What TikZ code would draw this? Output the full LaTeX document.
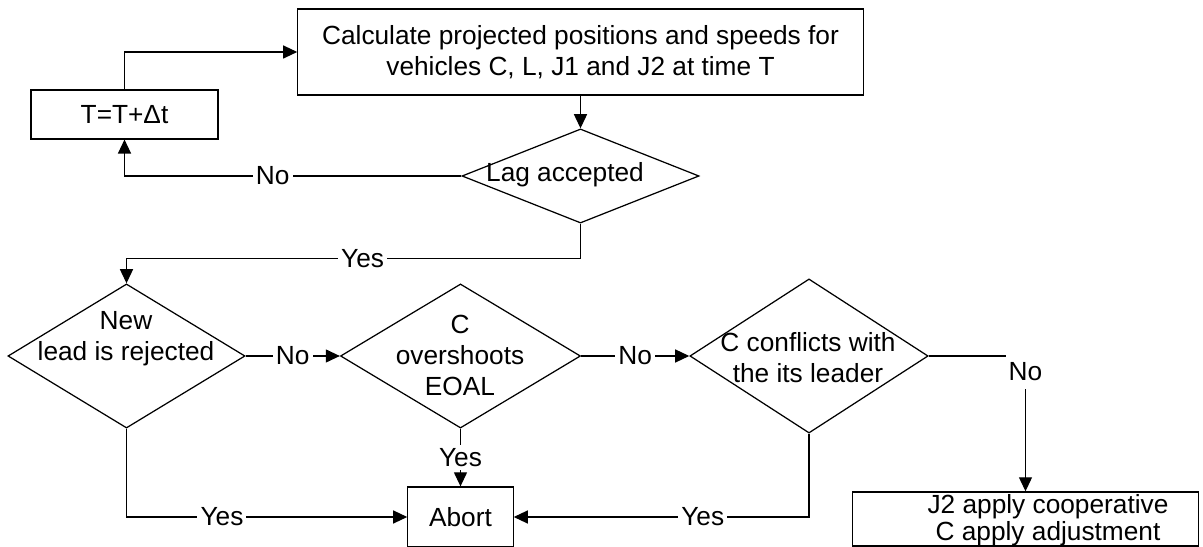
\documentclass[tikz,border=0pt]{standalone}
\usepackage{fontspec}
\setmainfont{Liberation Sans}
\usetikzlibrary{arrows.meta,shapes.geometric}

\begin{document}
\begin{tikzpicture}[
  x=0.017cm,y=-0.017cm,
  font=\fontsize{12.7}{15}\selectfont,
  box/.style={draw,line width=.6pt,inner sep=0pt,align=center},
  dec/.style={diamond,draw,line width=.6pt,inner sep=0pt},
  txt/.style={align=center,inner sep=0pt},
  flow/.style={line width=.6pt,-{Triangle[length=6.8pt,width=6.3pt]}},
  lbl/.style={fill=white,inner sep=1.5pt}
]
\useasboundingbox (0,0) rectangle (1203,547);
\node[box,minimum width=9.61cm,minimum height=1.46cm] (calc) at (580.5,52)
  {Calculate projected positions and speeds for\\vehicles C, L, J1 and J2 at time T};
\node[box,minimum width=3.18cm,minimum height=.83cm] (tbox) at (124.5,114.5) {T=T+Δt};
\node[dec,minimum width=4.03cm,minimum height=1.6cm] (lag) at (580.5,176) {};
\node[txt] (lagtxt) at (565,175) {Lag accepted};
\node[dec,minimum width=4.03cm,minimum height=2.45cm] (lead) at (126.5,356) {};
\node[txt] (leadtxt) at (126,339) {New\\lead is rejected};
\node[dec,minimum width=4.08cm,minimum height=2.45cm] (over) at (460.5,356) {};
\node[txt] (overtxt) at (460,355) {C\\overshoots\\EOAL};
\node[dec,minimum width=4.05cm,minimum height=2.62cm] (conf) at (809,356) {};
\node[txt] (conftxt) at (808,358) {C conflicts with\\the its leader};
\node[box,minimum width=1.79cm,minimum height=1.02cm] (abort) at (460.5,517) {Abort};
\node[box,minimum width=5.87cm,minimum height=.92cm] (adj) at (1025.5,519) {};
\node[txt] (adjtxt) at (1048,520) {J2 apply cooperative\\[-2.2pt]C apply adjustment};

\draw[flow] (calc.south) -- (lag.north);
\draw[flow] (tbox.north) |- (calc.west);
\draw[flow] (lag.west) -| node[lbl,pos=.28] {No} (tbox.south);
\draw[flow] (lag.south) -- ++(0,35) -| node[lbl,pos=.24] {Yes} (lead.north);
\draw[flow] (lead.east) -- node[lbl] {No} (over.west);
\draw[flow] (over.east) -- node[lbl] {No} (conf.west);
\draw[flow] (over.south) -- node[lbl] {Yes} (abort.north);
\draw[flow] (lead.south) |- node[lbl,pos=.67] {Yes} (abort.west);
\draw[flow] (conf.south) |- node[lbl,pos=.68] {Yes} (abort.east);
\draw[flow] (conf.east) -| node[lbl,inner ysep=4pt,anchor=north,pos=.5,yshift=1pt] {No} (adj.north);
\end{tikzpicture}
\end{document}
